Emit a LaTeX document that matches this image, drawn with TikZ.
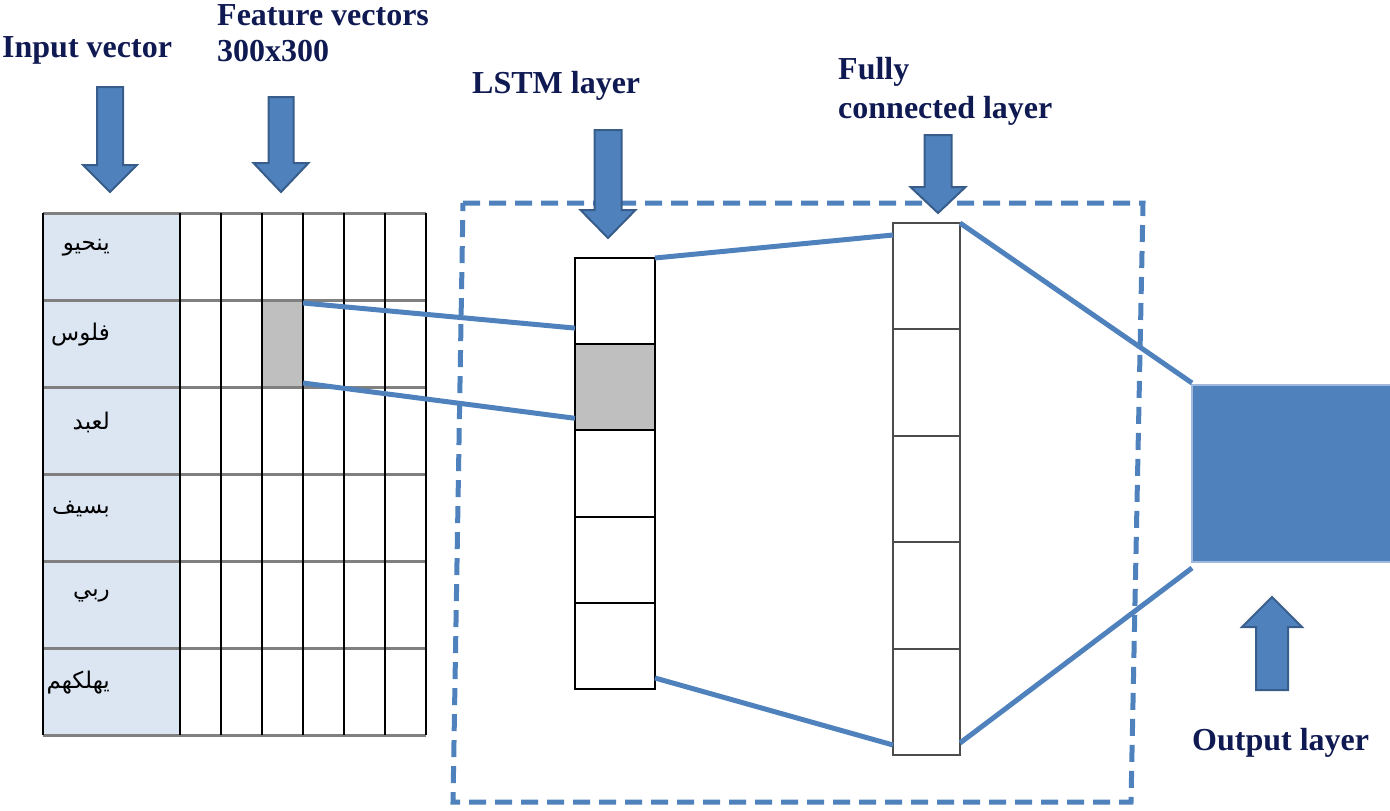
\documentclass[tikz,border=0pt]{standalone}
\usepackage{fontspec}
\setmainfont{Liberation Serif}
\newfontfamily\arabicfont[Script=Arabic]{DejaVu Sans}
\TeXXeTstate=1
\usepackage{tikz}
\usetikzlibrary{positioning}
\definecolor{arrowblue}{RGB}{79,129,189}
\definecolor{arrowedge}{RGB}{56,93,138}
\definecolor{outedge}{RGB}{160,185,220}
\definecolor{labelnavy}{RGB}{16,26,82}
\definecolor{wordcell}{RGB}{220,230,242}
\definecolor{cellgrey}{RGB}{191,191,191}

\newcommand{\fatarrow}[6]{%
  \draw[blockarrow] (#1-#5,#2) -- (#1+#5,#2) -- (#1+#5,#3) -- (#1+#6,#3)
    -- (#1,#4) -- (#1-#6,#3) -- (#1-#5,#3) -- cycle;}

\tikzset{
  lbl/.style={font=\bfseries\fontsize{32}{38}\selectfont, text=labelnavy, inner sep=0pt, anchor=base west},
  word/.style={font=\arabicfont\fontsize{23}{27}\selectfont, inner sep=0pt, anchor=east},
  lstmcell/.style={draw=black, line width=2pt, minimum width=80pt, minimum height=86.2pt, inner sep=0pt, outer sep=0pt},
  fccell/.style={draw=black!70, line width=2pt, minimum width=67pt, minimum height=106.4pt, inner sep=0pt, outer sep=0pt},
  link/.style={draw=arrowblue, line width=5pt},
  blockarrow/.style={fill=arrowblue, draw=arrowedge, line width=2pt},
}

\begin{document}
\begin{tikzpicture}[x=1pt,y=-1pt]
        \useasboundingbox (0,0) rectangle (1390,811);
        % labels
        \node[lbl] (inputlbl) at (2,57) {Input vector};
        \node[lbl] (featlbl) at (217,25) {Feature vectors};
        \node[lbl] (featsize) at (217,61) {300x300};
        \node[lbl] (lstmlbl) at (472,93) {LSTM layer};
        \node[lbl] (fclbl) at (838,79) {Fully};
        \node[lbl] (fclbltwo) at (838,118) {connected layer};
        \node[lbl] (outlbl) at (1192,750) {Output layer};
        % input table
        \fill[wordcell] (43,213) rectangle (180,735);
        \node[fill=cellgrey, minimum width=41pt, minimum height=87pt, inner sep=0pt, outer sep=0pt, anchor=north west] (feat) at (262,300) {};
        \foreach \r in {0,...,6}
            \draw[gray, line width=3pt] (43,213+87*\r) -- (426,213+87*\r);
        \foreach \c in {43,180,221,262,303,344,385,426}
            \draw[black, line width=2pt] (\c,213) -- (\c,735);
        \foreach \w [count=\i] in {ينحيو,فلوس,لعبد,بسيف,ربي,يهلكهم}
            \node[word] (word\i) at (110,161+87*\i) {\beginR\w\endR};
        % dashed frame
        \draw[arrowblue, line width=5pt, dash pattern=on 17pt off 9pt] (463,203) -- (1143,203) -- (1131,802) -- (453,802) -- cycle;
        % lstm and fully connected columns
        \foreach \i/\f in {1/white,2/cellgrey,3/white,4/white,5/white}
            \node[lstmcell, fill=\f] (lstm\i) at (615,214.9+86.2*\i) {};
        \foreach \i in {1,...,5}
            \node[fccell] (fc\i) at (926.5,169.8+106.4*\i) {};
        \node[fill=arrowblue, draw=outedge, line width=1.5pt, minimum width=200pt, minimum height=177pt, inner sep=0pt, outer sep=0pt, anchor=north west] (out) at (1192,385) {};
        % links
        \draw[link] ([yshift=-3pt]feat.north east) -- ([yshift=-27pt]lstm1.west);
        \draw[link] ([yshift=4pt]feat.south east) -- ([yshift=-31pt]lstm2.west);
        \draw[link] (lstm1.north east) -- ([yshift=-12pt]fc1.north west);
        \draw[link] ([yshift=11pt]lstm5.south east) -- ([yshift=10pt]fc5.south west);
        \draw[link] (fc1.north east) -- ([yshift=2pt]out.north west);
        \draw[link] ([yshift=12pt]fc5.south east) -- ([yshift=-6pt]out.south west);
        % block arrows
        \fatarrow{110}{87}{165}{192}{13}{27}
        \fatarrow{281}{97}{163}{192}{12.5}{27.5}
        \fatarrow{608}{130}{210}{238}{13.5}{27.5}
        \fatarrow{938}{135}{187}{213}{13.5}{27.5}
        \fatarrow{1272}{690}{627}{597}{16}{30}
    \end{tikzpicture}
\end{document}
